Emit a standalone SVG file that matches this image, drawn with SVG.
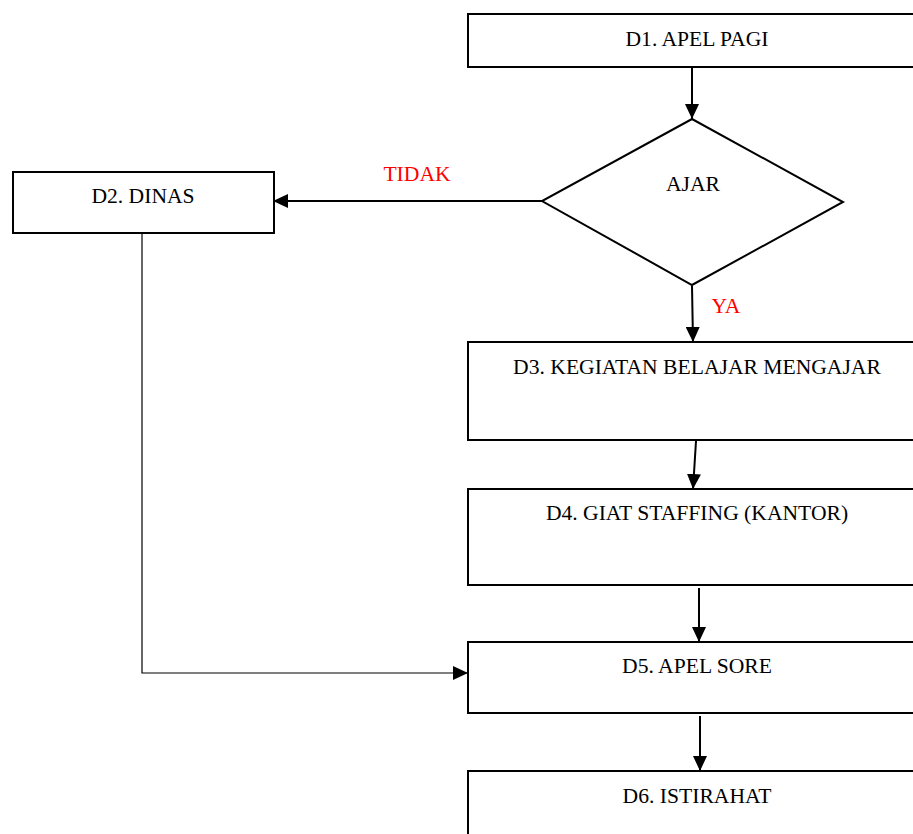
<svg xmlns="http://www.w3.org/2000/svg" width="913" height="834" viewBox="0 0 913 834">
<style>
.box{fill:#fff;stroke:#000;stroke-width:2}
.t{font-family:'Liberation Serif','Times New Roman',serif;font-size:21.6px;fill:#000;text-anchor:middle}
.r{fill:#ff0000}
.c{fill:none;stroke:#000;stroke-width:2}
.thin{fill:none;stroke:#000;stroke-width:1.2}
</style>
<defs>
<marker id="ah" viewBox="0 0 15 14" refX="15" refY="7" markerWidth="15" markerHeight="14" markerUnits="userSpaceOnUse" orient="auto">
<path d="M0,0 L15,7 L0,14 Z" fill="#000"/>
</marker>
</defs>
<rect width="913" height="834" fill="#fff"/>
<g id="connectors">
<line class="c" x1="692" y1="68" x2="692" y2="119" marker-end="url(#ah)"/>
<line class="c" x1="542" y1="201" x2="273" y2="201" marker-end="url(#ah)"/>
<line class="c" x1="692" y1="286" x2="693" y2="342" marker-end="url(#ah)"/>
<line class="c" x1="696" y1="441" x2="693" y2="489" marker-end="url(#ah)"/>
<line class="c" x1="699" y1="588" x2="699" y2="642" marker-end="url(#ah)"/>
<line class="c" x1="700" y1="716" x2="700" y2="771" marker-end="url(#ah)"/>
<polyline class="thin" points="142,234 142,673 468,673" marker-end="url(#ah)"/>
</g>
<g id="D1">
<rect class="box" x="468" y="14" width="480" height="53"/>
<text class="t" x="697" y="46">D1. APEL PAGI</text>
</g>
<g id="AJAR">
<polygon class="box" points="692,119 843,202 692,285 542,201"/>
<text class="t" x="693" y="191">AJAR</text>
</g>
<g id="D2">
<rect class="box" x="13" y="172" width="261" height="61"/>
<text class="t" x="143" y="203">D2. DINAS</text>
</g>
<g id="labels">
<text class="t r" x="417" y="181">TIDAK</text>
<text class="t r" x="726" y="313">YA</text>
</g>
<g id="D3">
<rect class="box" x="468" y="342" width="480" height="98"/>
<text class="t" x="697" y="374">D3. KEGIATAN BELAJAR MENGAJAR</text>
</g>
<g id="D4">
<rect class="box" x="468" y="489" width="480" height="96"/>
<text class="t" x="697" y="520">D4. GIAT STAFFING (KANTOR)</text>
</g>
<g id="D5">
<rect class="box" x="468" y="642" width="480" height="71"/>
<text class="t" x="697" y="673">D5. APEL SORE</text>
</g>
<g id="D6">
<rect class="box" x="468" y="771" width="480" height="80"/>
<text class="t" x="697" y="803">D6. ISTIRAHAT</text>
</g>
</svg>
